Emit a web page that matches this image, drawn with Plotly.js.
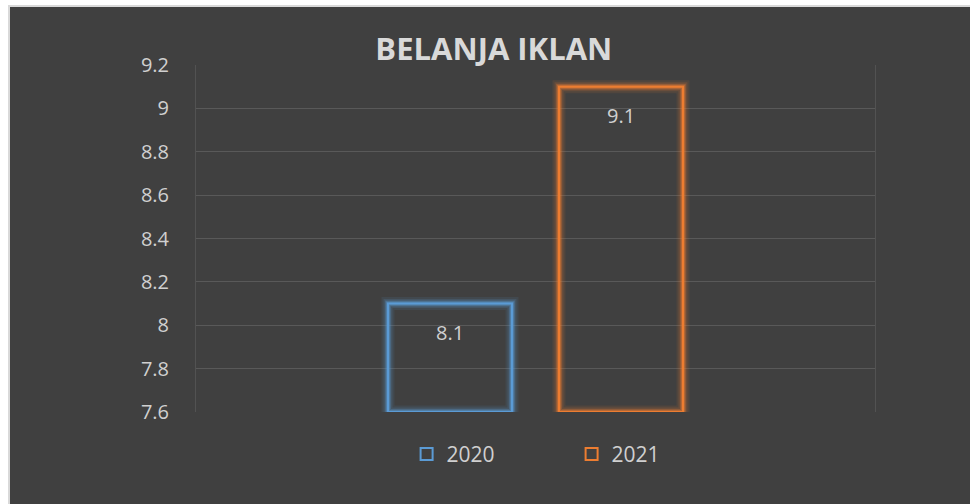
<!DOCTYPE html>
<html>
<head>
<meta charset="utf-8">
<script src="https://cdn.plot.ly/plotly-3.0.1.min.js"></script>
<style>
  html, body { margin: 0; padding: 0; background: #ffffff; width: 970px; height: 504px; overflow: hidden; }
  #frame { position: absolute; left: 8px; top: 5px; width: 962px; height: 499px; background: #d9d9d9; }
  #chart { position: absolute; left: 10px; top: 7px; width: 960px; height: 497px; }
</style>
</head>
<body>
<div id="frame"></div>
<div id="chart"></div>
<script>
// ---- data ----
const categories = ['BELANJA IKLAN'];
const seriesNames = ['2020', '2021'];
const values2020 = [8.1];
const values2021 = [9.1];
const yTickValues = [7.6, 7.8, 8.0, 8.2, 8.4, 8.6, 8.8, 9.0, 9.2];
const yTickLabels = ['7.6', '7.8', '8', '8.2', '8.4', '8.6', '8.8', '9', '9.2'];
const axisMin = 7.6;
const axisMax = 9.2;

// ---- styles ----
const seriesValues = [values2020, values2021];
const seriesRGB = ['91,155,213', '237,125,49'];
const clear = 'rgba(0,0,0,0)';
const textColor = '#d0d0d0';
const fontFamily = '"Open Sans", "Noto Sans", sans-serif';

const traces = [];
const glowLayers = [{w: 13, a: 0.10}, {w: 9, a: 0.16}, {w: 6, a: 0.28}, {w: 4, a: 0.4}];
glowLayers.forEach(g => {
  seriesNames.forEach((name, i) => {
    traces.push({
      type: 'bar', x: categories, y: seriesValues[i].map(v => v - axisMin), base: axisMin,
      offsetgroup: name, showlegend: false, hoverinfo: 'skip', cliponaxis: false,
      marker: {color: clear, line: {color: 'rgba(' + seriesRGB[i] + ',' + g.a + ')', width: g.w}}
    });
  });
});
seriesNames.forEach((name, i) => {
  traces.push({
    type: 'bar', name: name, x: categories, y: seriesValues[i].map(v => v - axisMin), base: axisMin,
    offsetgroup: name, cliponaxis: false,
    customdata: seriesValues[i], hovertemplate: '%{customdata}<extra>' + name + '</extra>',
    marker: {color: clear, line: {color: 'rgb(' + seriesRGB[i] + ')', width: 2}}
  });
});

const slotShift = 85.5;
const annotations = [];
seriesNames.forEach((name, i) => {
  seriesValues[i].forEach((v, j) => {
    annotations.push({
      x: categories[j], y: v, xref: 'x', yref: 'y',
      xshift: (i === 0 ? -1 : 1) * slotShift, yshift: -13,
      yanchor: 'top', xanchor: 'center', showarrow: false,
      text: String(v), font: {family: fontFamily, size: 20, color: textColor}
    });
  });
});

const layout = {
  width: 960, height: 497,
  paper_bgcolor: '#404040', plot_bgcolor: '#404040',
  margin: {l: 186, r: 95, t: 58, b: 92, pad: 0},
  font: {family: fontFamily, size: 20, color: textColor},
  title: {
    text: '<b>BELANJA IKLAN</b>', xref: 'container', yref: 'container',
    x: 0.504, y: 0.9145, xanchor: 'center', yanchor: 'middle',
    font: {family: fontFamily, size: 31, color: '#d9d9d9'}
  },
  barmode: 'group', bargap: 0.4963, bargroupgap: 0.275,
  xaxis: {
    type: 'category', showticklabels: false, showgrid: false, zeroline: false,
    showline: false, ticks: '', fixedrange: true
  },
  yaxis: {
    range: [axisMin, axisMax], tickvals: yTickValues, ticktext: yTickLabels,
    showgrid: true, gridcolor: '#595959', gridwidth: 1, zeroline: false,
    showline: true, linecolor: '#525252', linewidth: 1, mirror: true,
    ticks: '', ticklabelstandoff: 22,
    tickfont: {family: fontFamily, size: 20, color: textColor}, fixedrange: true
  },
  showlegend: true,
  legend: {
    orientation: 'h', xref: 'container', yref: 'container',
    x: 0.585, y: 0.10, xanchor: 'center', yanchor: 'middle',
    entrywidth: 120, bgcolor: clear,
    font: {family: fontFamily, size: 21, color: textColor}
  },
  annotations: annotations
};

Plotly.newPlot('chart', traces, layout, {displayModeBar: false, staticPlot: true});
</script>
</body>
</html>
